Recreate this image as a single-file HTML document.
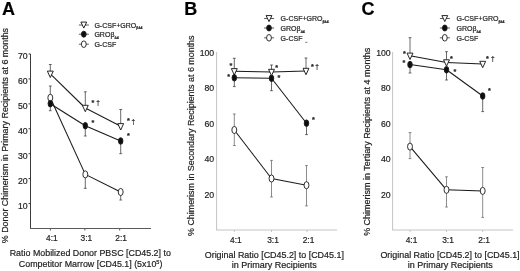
<!DOCTYPE html>
<html><head><meta charset="utf-8"><title>Figure</title>
<style>
html,body{margin:0;padding:0;background:#fff;}
body{width:520px;height:271px;overflow:hidden;}
svg{display:block;font-family:"Liberation Sans",sans-serif;}
</style></head>
<body>
<svg width="520" height="271" viewBox="0 0 520 271">
<rect width="520" height="271" fill="#fff"/>
<g filter="url(#soft)">
<text transform="translate(2.00,14.50) scale(1.0,1)" font-size="18" text-anchor="start" font-weight="bold" fill="#000" stroke="#222" stroke-width="0.2">A</text>
<line x1="30.50" y1="54.00" x2="30.50" y2="228.50" stroke="#3a3a3a" stroke-width="1.0"/>
<line x1="30.00" y1="228.50" x2="151.00" y2="228.50" stroke="#5a5a5a" stroke-width="1.0"/>
<line x1="28.50" y1="203.57" x2="30.50" y2="203.57" stroke="#3a3a3a" stroke-width="1.0"/>
<text transform="translate(27.70,208.67) scale(0.92,1)" font-size="9.5" text-anchor="end" font-weight="normal" fill="#222" stroke="#222" stroke-width="0.2">10</text>
<line x1="28.50" y1="178.64" x2="30.50" y2="178.64" stroke="#3a3a3a" stroke-width="1.0"/>
<text transform="translate(27.70,183.74) scale(0.92,1)" font-size="9.5" text-anchor="end" font-weight="normal" fill="#222" stroke="#222" stroke-width="0.2">20</text>
<line x1="28.50" y1="153.71" x2="30.50" y2="153.71" stroke="#3a3a3a" stroke-width="1.0"/>
<text transform="translate(27.70,158.81) scale(0.92,1)" font-size="9.5" text-anchor="end" font-weight="normal" fill="#222" stroke="#222" stroke-width="0.2">30</text>
<line x1="28.50" y1="128.78" x2="30.50" y2="128.78" stroke="#3a3a3a" stroke-width="1.0"/>
<text transform="translate(27.70,133.88) scale(0.92,1)" font-size="9.5" text-anchor="end" font-weight="normal" fill="#222" stroke="#222" stroke-width="0.2">40</text>
<line x1="28.50" y1="103.85" x2="30.50" y2="103.85" stroke="#3a3a3a" stroke-width="1.0"/>
<text transform="translate(27.70,108.95) scale(0.92,1)" font-size="9.5" text-anchor="end" font-weight="normal" fill="#222" stroke="#222" stroke-width="0.2">50</text>
<line x1="28.50" y1="78.92" x2="30.50" y2="78.92" stroke="#3a3a3a" stroke-width="1.0"/>
<text transform="translate(27.70,84.02) scale(0.92,1)" font-size="9.5" text-anchor="end" font-weight="normal" fill="#222" stroke="#222" stroke-width="0.2">60</text>
<line x1="28.50" y1="53.99" x2="30.50" y2="53.99" stroke="#3a3a3a" stroke-width="1.0"/>
<text transform="translate(27.70,59.09) scale(0.92,1)" font-size="9.5" text-anchor="end" font-weight="normal" fill="#222" stroke="#222" stroke-width="0.2">70</text>
<line x1="50.40" y1="228.50" x2="50.40" y2="230.50" stroke="#5a5a5a" stroke-width="1.0"/>
<text transform="translate(51.90,240.80) scale(0.955,1)" font-size="8.8" text-anchor="middle" font-weight="normal" fill="#222" stroke="#222" stroke-width="0.2">4:1</text>
<line x1="84.90" y1="228.50" x2="84.90" y2="230.50" stroke="#5a5a5a" stroke-width="1.0"/>
<text transform="translate(86.40,240.80) scale(0.955,1)" font-size="8.8" text-anchor="middle" font-weight="normal" fill="#222" stroke="#222" stroke-width="0.2">3:1</text>
<line x1="119.70" y1="228.50" x2="119.70" y2="230.50" stroke="#5a5a5a" stroke-width="1.0"/>
<text transform="translate(121.20,240.80) scale(0.955,1)" font-size="8.8" text-anchor="middle" font-weight="normal" fill="#222" stroke="#222" stroke-width="0.2">2:1</text>
<text transform="translate(7.50,135.60) rotate(-90) scale(1.0,1)" font-size="8.92" text-anchor="middle" fill="#222" stroke="#222" stroke-width="0.2">% Donor Chimerism in Primary Recipients at 6 months</text>
<text transform="translate(90.30,256.00) scale(0.955,1)" font-size="9.3" text-anchor="middle" font-weight="normal" fill="#222" stroke="#222" stroke-width="0.2">Ratio Mobilized Donor PBSC [CD45.2] to</text>
<text transform="translate(90.60,267.00) scale(0.955,1)" font-size="9.3" text-anchor="middle" font-weight="normal" fill="#222" stroke="#222" stroke-width="0.2">Competitor Marrow [CD45.1] (5x10<tspan font-size="5.8" dy="-3.2">5</tspan><tspan dy="3.2">)</tspan></text>
<line x1="50.30" y1="73.80" x2="50.30" y2="64.50" stroke="#383838" stroke-width="0.75"/>
<line x1="48.90" y1="64.50" x2="51.70" y2="64.50" stroke="#383838" stroke-width="0.75"/>
<line x1="85.30" y1="108.00" x2="85.30" y2="91.80" stroke="#383838" stroke-width="0.75"/>
<line x1="83.90" y1="91.80" x2="86.70" y2="91.80" stroke="#383838" stroke-width="0.75"/>
<line x1="120.70" y1="126.30" x2="120.70" y2="109.50" stroke="#383838" stroke-width="0.75"/>
<line x1="119.30" y1="109.50" x2="122.10" y2="109.50" stroke="#383838" stroke-width="0.75"/>
<line x1="50.30" y1="103.70" x2="50.30" y2="110.70" stroke="#383838" stroke-width="0.75"/>
<line x1="48.90" y1="110.70" x2="51.70" y2="110.70" stroke="#383838" stroke-width="0.75"/>
<line x1="85.30" y1="125.70" x2="85.30" y2="136.00" stroke="#383838" stroke-width="0.75"/>
<line x1="83.90" y1="136.00" x2="86.70" y2="136.00" stroke="#383838" stroke-width="0.75"/>
<line x1="120.70" y1="141.00" x2="120.70" y2="153.70" stroke="#383838" stroke-width="0.75"/>
<line x1="119.30" y1="153.70" x2="122.10" y2="153.70" stroke="#383838" stroke-width="0.75"/>
<line x1="50.30" y1="97.80" x2="50.30" y2="86.00" stroke="#383838" stroke-width="0.75"/>
<line x1="48.90" y1="86.00" x2="51.70" y2="86.00" stroke="#383838" stroke-width="0.75"/>
<line x1="85.30" y1="174.40" x2="85.30" y2="188.30" stroke="#383838" stroke-width="0.75"/>
<line x1="83.90" y1="188.30" x2="86.70" y2="188.30" stroke="#383838" stroke-width="0.75"/>
<line x1="120.70" y1="192.00" x2="120.70" y2="200.00" stroke="#383838" stroke-width="0.75"/>
<line x1="119.30" y1="200.00" x2="122.10" y2="200.00" stroke="#383838" stroke-width="0.75"/>
<line x1="50.30" y1="97.80" x2="85.30" y2="174.40" stroke="#1a1a1a" stroke-width="1.05"/>
<line x1="85.30" y1="174.40" x2="120.70" y2="192.00" stroke="#1a1a1a" stroke-width="1.05"/>
<line x1="50.30" y1="103.70" x2="85.30" y2="125.70" stroke="#1a1a1a" stroke-width="1.05"/>
<line x1="85.30" y1="125.70" x2="120.70" y2="141.00" stroke="#1a1a1a" stroke-width="1.05"/>
<line x1="50.30" y1="73.80" x2="85.30" y2="108.00" stroke="#1a1a1a" stroke-width="1.05"/>
<line x1="85.30" y1="108.00" x2="120.70" y2="126.30" stroke="#1a1a1a" stroke-width="1.05"/>
<ellipse cx="50.30" cy="97.80" rx="2.45" ry="3.55" fill="#fff" stroke="#1a1a1a" stroke-width="0.9"/>
<ellipse cx="85.30" cy="174.40" rx="2.45" ry="3.55" fill="#fff" stroke="#1a1a1a" stroke-width="0.9"/>
<ellipse cx="120.70" cy="192.00" rx="2.45" ry="3.55" fill="#fff" stroke="#1a1a1a" stroke-width="0.9"/>
<ellipse cx="50.30" cy="103.70" rx="2.25" ry="3.3" fill="#111" stroke="#1a1a1a" stroke-width="0.9"/>
<ellipse cx="85.30" cy="125.70" rx="2.25" ry="3.3" fill="#111" stroke="#1a1a1a" stroke-width="0.9"/>
<ellipse cx="120.70" cy="141.00" rx="2.25" ry="3.3" fill="#111" stroke="#1a1a1a" stroke-width="0.9"/>
<polygon points="47.35,71.11 53.25,71.11 50.30,77.51" fill="#fff" stroke="#1a1a1a" stroke-width="0.95" stroke-linejoin="miter"/>
<polygon points="82.35,105.31 88.25,105.31 85.30,111.71" fill="#fff" stroke="#1a1a1a" stroke-width="0.95" stroke-linejoin="miter"/>
<polygon points="117.75,123.61 123.65,123.61 120.70,130.01" fill="#fff" stroke="#1a1a1a" stroke-width="0.95" stroke-linejoin="miter"/>
<text transform="translate(93.00,104.90) scale(1.0,1)" font-size="7.2" text-anchor="middle" font-weight="bold" fill="#222" stroke="#222" stroke-width="0.2">*</text>
<text transform="translate(98.00,104.50) scale(1.0,1)" font-size="6.5" text-anchor="middle" font-weight="normal" fill="#222" stroke="#222" stroke-width="0.2">†</text>
<text transform="translate(93.00,124.90) scale(1.0,1)" font-size="7.2" text-anchor="middle" font-weight="bold" fill="#222" stroke="#222" stroke-width="0.2">*</text>
<text transform="translate(128.40,123.40) scale(1.0,1)" font-size="7.2" text-anchor="middle" font-weight="bold" fill="#222" stroke="#222" stroke-width="0.2">*</text>
<text transform="translate(133.40,124.00) scale(1.0,1)" font-size="6.5" text-anchor="middle" font-weight="normal" fill="#222" stroke="#222" stroke-width="0.2">†</text>
<text transform="translate(128.40,138.20) scale(1.0,1)" font-size="7.2" text-anchor="middle" font-weight="bold" fill="#222" stroke="#222" stroke-width="0.2">*</text>
<line x1="78.90" y1="25.00" x2="88.90" y2="25.00" stroke="#333" stroke-width="0.8"/>
<line x1="78.90" y1="34.20" x2="88.90" y2="34.20" stroke="#333" stroke-width="0.8"/>
<line x1="78.90" y1="44.20" x2="88.90" y2="44.20" stroke="#333" stroke-width="0.8"/>
<polygon points="80.90,22.08 86.70,22.08 83.80,28.08" fill="#fff" stroke="#1a1a1a" stroke-width="0.95" stroke-linejoin="miter"/>
<ellipse cx="83.80" cy="34.20" rx="2.35" ry="3.0" fill="#111" stroke="#1a1a1a" stroke-width="0.9"/>
<ellipse cx="83.80" cy="44.20" rx="2.4" ry="3.3" fill="#fff" stroke="#1a1a1a" stroke-width="0.9"/>
<text transform="translate(94.40,27.70) scale(0.95,1)" font-size="7.4" text-anchor="start" font-weight="normal" fill="#222" stroke="#222" stroke-width="0.2">G-CSF+GRO<tspan font-size="3.6" font-weight="bold" dy="1.6">β∆4</tspan></text>
<text transform="translate(94.40,36.90) scale(0.95,1)" font-size="7.4" text-anchor="start" font-weight="normal" fill="#222" stroke="#222" stroke-width="0.2">GROβ<tspan font-size="3.8" font-weight="bold" dy="1.8">∆4</tspan></text>
<text transform="translate(94.40,46.90) scale(0.95,1)" font-size="7.4" text-anchor="start" font-weight="normal" fill="#222" stroke="#222" stroke-width="0.2">G-CSF</text>
<text transform="translate(184.30,14.50) scale(1.0,1)" font-size="18" text-anchor="start" font-weight="bold" fill="#000" stroke="#222" stroke-width="0.2">B</text>
<line x1="216.60" y1="52.00" x2="216.60" y2="230.00" stroke="#bdbdbd" stroke-width="0.9"/>
<line x1="216.10" y1="230.00" x2="337.00" y2="230.00" stroke="#bdbdbd" stroke-width="0.9"/>
<line x1="216.60" y1="194.50" x2="216.60" y2="194.50" stroke="#bdbdbd" stroke-width="0.9"/>
<text transform="translate(214.20,197.90) scale(0.92,1)" font-size="9.5" text-anchor="end" font-weight="normal" fill="#222" stroke="#222" stroke-width="0.2">20</text>
<line x1="216.60" y1="159.00" x2="216.60" y2="159.00" stroke="#bdbdbd" stroke-width="0.9"/>
<text transform="translate(214.20,162.40) scale(0.92,1)" font-size="9.5" text-anchor="end" font-weight="normal" fill="#222" stroke="#222" stroke-width="0.2">40</text>
<line x1="216.60" y1="123.50" x2="216.60" y2="123.50" stroke="#bdbdbd" stroke-width="0.9"/>
<text transform="translate(214.20,126.90) scale(0.92,1)" font-size="9.5" text-anchor="end" font-weight="normal" fill="#222" stroke="#222" stroke-width="0.2">60</text>
<line x1="216.60" y1="88.00" x2="216.60" y2="88.00" stroke="#bdbdbd" stroke-width="0.9"/>
<text transform="translate(214.20,91.40) scale(0.92,1)" font-size="9.5" text-anchor="end" font-weight="normal" fill="#222" stroke="#222" stroke-width="0.2">80</text>
<line x1="216.60" y1="52.50" x2="216.60" y2="52.50" stroke="#bdbdbd" stroke-width="0.9"/>
<text transform="translate(214.20,55.90) scale(0.92,1)" font-size="9.5" text-anchor="end" font-weight="normal" fill="#222" stroke="#222" stroke-width="0.2">100</text>
<line x1="234.30" y1="230.00" x2="234.30" y2="232.00" stroke="#bdbdbd" stroke-width="0.9"/>
<text transform="translate(235.80,242.70) scale(0.955,1)" font-size="8.8" text-anchor="middle" font-weight="normal" fill="#222" stroke="#222" stroke-width="0.2">4:1</text>
<line x1="271.50" y1="230.00" x2="271.50" y2="232.00" stroke="#bdbdbd" stroke-width="0.9"/>
<text transform="translate(273.00,242.70) scale(0.955,1)" font-size="8.8" text-anchor="middle" font-weight="normal" fill="#222" stroke="#222" stroke-width="0.2">3:1</text>
<line x1="307.00" y1="230.00" x2="307.00" y2="232.00" stroke="#bdbdbd" stroke-width="0.9"/>
<text transform="translate(308.50,242.70) scale(0.955,1)" font-size="8.8" text-anchor="middle" font-weight="normal" fill="#222" stroke="#222" stroke-width="0.2">2:1</text>
<text transform="translate(194.20,135.75) rotate(-90) scale(0.902,1)" font-size="9.9" text-anchor="middle" fill="#222" stroke="#222" stroke-width="0.2">% Chimerism in Secondary Recipients at 6 months</text>
<text transform="translate(274.30,258.10) scale(0.98,1)" font-size="9.1" text-anchor="middle" font-weight="normal" fill="#222" stroke="#222" stroke-width="0.2">Original Ratio [CD45.2] to [CD45.1]</text>
<text transform="translate(274.30,268.10) scale(0.99,1)" font-size="9.1" text-anchor="middle" font-weight="normal" fill="#222" stroke="#222" stroke-width="0.2">in Primary Recipients</text>
<line x1="234.30" y1="71.30" x2="234.30" y2="58.30" stroke="#383838" stroke-width="0.75"/>
<line x1="232.90" y1="58.30" x2="235.70" y2="58.30" stroke="#383838" stroke-width="0.75"/>
<line x1="271.50" y1="72.00" x2="271.50" y2="65.00" stroke="#383838" stroke-width="0.75"/>
<line x1="270.10" y1="65.00" x2="272.90" y2="65.00" stroke="#383838" stroke-width="0.75"/>
<line x1="306.00" y1="71.00" x2="306.00" y2="58.00" stroke="#383838" stroke-width="0.75"/>
<line x1="304.60" y1="58.00" x2="307.40" y2="58.00" stroke="#383838" stroke-width="0.75"/>
<line x1="234.30" y1="77.80" x2="234.30" y2="86.60" stroke="#383838" stroke-width="0.75"/>
<line x1="232.90" y1="86.60" x2="235.70" y2="86.60" stroke="#383838" stroke-width="0.75"/>
<line x1="271.50" y1="78.30" x2="271.50" y2="90.70" stroke="#383838" stroke-width="0.75"/>
<line x1="270.10" y1="90.70" x2="272.90" y2="90.70" stroke="#383838" stroke-width="0.75"/>
<line x1="306.50" y1="123.20" x2="306.50" y2="134.60" stroke="#383838" stroke-width="0.75"/>
<line x1="305.10" y1="134.60" x2="307.90" y2="134.60" stroke="#383838" stroke-width="0.75"/>
<line x1="234.30" y1="130.00" x2="234.30" y2="114.00" stroke="#666" stroke-width="0.75"/>
<line x1="232.90" y1="114.00" x2="235.70" y2="114.00" stroke="#666" stroke-width="0.75"/>
<line x1="234.30" y1="130.00" x2="234.30" y2="145.50" stroke="#666" stroke-width="0.75"/>
<line x1="232.90" y1="145.50" x2="235.70" y2="145.50" stroke="#666" stroke-width="0.75"/>
<line x1="271.50" y1="178.50" x2="271.50" y2="160.40" stroke="#666" stroke-width="0.75"/>
<line x1="270.10" y1="160.40" x2="272.90" y2="160.40" stroke="#666" stroke-width="0.75"/>
<line x1="271.50" y1="178.50" x2="271.50" y2="197.00" stroke="#666" stroke-width="0.75"/>
<line x1="270.10" y1="197.00" x2="272.90" y2="197.00" stroke="#666" stroke-width="0.75"/>
<line x1="306.50" y1="185.20" x2="306.50" y2="165.60" stroke="#666" stroke-width="0.75"/>
<line x1="305.10" y1="165.60" x2="307.90" y2="165.60" stroke="#666" stroke-width="0.75"/>
<line x1="306.50" y1="185.20" x2="306.50" y2="205.90" stroke="#666" stroke-width="0.75"/>
<line x1="305.10" y1="205.90" x2="307.90" y2="205.90" stroke="#666" stroke-width="0.75"/>
<line x1="234.30" y1="130.00" x2="271.50" y2="178.50" stroke="#1a1a1a" stroke-width="1.05"/>
<line x1="271.50" y1="178.50" x2="306.50" y2="185.20" stroke="#1a1a1a" stroke-width="1.05"/>
<line x1="234.30" y1="77.80" x2="271.50" y2="78.30" stroke="#1a1a1a" stroke-width="1.05"/>
<line x1="271.50" y1="78.30" x2="306.50" y2="123.20" stroke="#1a1a1a" stroke-width="1.05"/>
<line x1="234.30" y1="71.30" x2="271.50" y2="72.00" stroke="#1a1a1a" stroke-width="1.05"/>
<line x1="271.50" y1="72.00" x2="306.00" y2="71.00" stroke="#1a1a1a" stroke-width="1.05"/>
<ellipse cx="234.30" cy="130.00" rx="2.45" ry="3.55" fill="#fff" stroke="#1a1a1a" stroke-width="0.9"/>
<ellipse cx="271.50" cy="178.50" rx="2.45" ry="3.55" fill="#fff" stroke="#1a1a1a" stroke-width="0.9"/>
<ellipse cx="306.50" cy="185.20" rx="2.45" ry="3.55" fill="#fff" stroke="#1a1a1a" stroke-width="0.9"/>
<ellipse cx="234.30" cy="77.80" rx="2.25" ry="3.3" fill="#111" stroke="#1a1a1a" stroke-width="0.9"/>
<ellipse cx="271.50" cy="78.30" rx="2.25" ry="3.3" fill="#111" stroke="#1a1a1a" stroke-width="0.9"/>
<ellipse cx="306.50" cy="123.20" rx="2.25" ry="3.3" fill="#111" stroke="#1a1a1a" stroke-width="0.9"/>
<polygon points="231.35,68.61 237.25,68.61 234.30,75.01" fill="#fff" stroke="#1a1a1a" stroke-width="0.95" stroke-linejoin="miter"/>
<polygon points="268.55,69.31 274.45,69.31 271.50,75.71" fill="#fff" stroke="#1a1a1a" stroke-width="0.95" stroke-linejoin="miter"/>
<polygon points="303.05,68.31 308.95,68.31 306.00,74.71" fill="#fff" stroke="#1a1a1a" stroke-width="0.95" stroke-linejoin="miter"/>
<text transform="translate(231.00,67.90) scale(1.0,1)" font-size="7.2" text-anchor="middle" font-weight="bold" fill="#222" stroke="#222" stroke-width="0.2">*</text>
<text transform="translate(228.60,78.90) scale(1.0,1)" font-size="7.2" text-anchor="middle" font-weight="bold" fill="#222" stroke="#222" stroke-width="0.2">*</text>
<text transform="translate(276.70,69.90) scale(1.0,1)" font-size="7.2" text-anchor="middle" font-weight="bold" fill="#222" stroke="#222" stroke-width="0.2">*</text>
<text transform="translate(279.00,79.90) scale(1.0,1)" font-size="7.2" text-anchor="middle" font-weight="bold" fill="#222" stroke="#222" stroke-width="0.2">*</text>
<text transform="translate(312.50,68.90) scale(1.0,1)" font-size="7.2" text-anchor="middle" font-weight="bold" fill="#222" stroke="#222" stroke-width="0.2">*</text>
<text transform="translate(317.00,69.00) scale(1.0,1)" font-size="6.5" text-anchor="middle" font-weight="normal" fill="#222" stroke="#222" stroke-width="0.2">†</text>
<text transform="translate(313.50,121.90) scale(1.0,1)" font-size="7.2" text-anchor="middle" font-weight="bold" fill="#222" stroke="#222" stroke-width="0.2">*</text>
<line x1="264.10" y1="18.50" x2="274.10" y2="18.50" stroke="#333" stroke-width="0.8"/>
<line x1="264.10" y1="28.00" x2="274.10" y2="28.00" stroke="#333" stroke-width="0.8"/>
<line x1="264.10" y1="37.80" x2="274.10" y2="37.80" stroke="#333" stroke-width="0.8"/>
<polygon points="266.10,15.58 271.90,15.58 269.00,21.58" fill="#fff" stroke="#1a1a1a" stroke-width="0.95" stroke-linejoin="miter"/>
<ellipse cx="269.00" cy="28.00" rx="2.35" ry="3.0" fill="#111" stroke="#1a1a1a" stroke-width="0.9"/>
<ellipse cx="269.00" cy="37.80" rx="2.4" ry="3.3" fill="#fff" stroke="#1a1a1a" stroke-width="0.9"/>
<text transform="translate(280.60,21.20) scale(0.95,1)" font-size="7.4" text-anchor="start" font-weight="normal" fill="#222" stroke="#222" stroke-width="0.2">G-CSF+GRO<tspan font-size="3.6" font-weight="bold" dy="1.6">β∆4</tspan></text>
<text transform="translate(280.60,30.70) scale(0.95,1)" font-size="7.4" text-anchor="start" font-weight="normal" fill="#222" stroke="#222" stroke-width="0.2">GROβ<tspan font-size="3.8" font-weight="bold" dy="1.8">∆4</tspan></text>
<text transform="translate(280.60,40.50) scale(0.95,1)" font-size="7.4" text-anchor="start" font-weight="normal" fill="#222" stroke="#222" stroke-width="0.2">G-CSF</text>
<line x1="305.00" y1="42.30" x2="307.50" y2="42.30" stroke="#555" stroke-width="0.7"/>
<text transform="translate(361.60,14.50) scale(1.0,1)" font-size="18" text-anchor="start" font-weight="bold" fill="#000" stroke="#222" stroke-width="0.2">C</text>
<line x1="392.60" y1="52.00" x2="392.60" y2="230.00" stroke="#bdbdbd" stroke-width="0.9"/>
<line x1="392.10" y1="230.00" x2="513.00" y2="230.00" stroke="#bdbdbd" stroke-width="0.9"/>
<line x1="392.60" y1="194.50" x2="392.60" y2="194.50" stroke="#bdbdbd" stroke-width="0.9"/>
<text transform="translate(390.70,197.90) scale(0.92,1)" font-size="9.5" text-anchor="end" font-weight="normal" fill="#222" stroke="#222" stroke-width="0.2">20</text>
<line x1="392.60" y1="159.00" x2="392.60" y2="159.00" stroke="#bdbdbd" stroke-width="0.9"/>
<text transform="translate(390.70,162.40) scale(0.92,1)" font-size="9.5" text-anchor="end" font-weight="normal" fill="#222" stroke="#222" stroke-width="0.2">40</text>
<line x1="392.60" y1="123.50" x2="392.60" y2="123.50" stroke="#bdbdbd" stroke-width="0.9"/>
<text transform="translate(390.70,126.90) scale(0.92,1)" font-size="9.5" text-anchor="end" font-weight="normal" fill="#222" stroke="#222" stroke-width="0.2">60</text>
<line x1="392.60" y1="88.00" x2="392.60" y2="88.00" stroke="#bdbdbd" stroke-width="0.9"/>
<text transform="translate(390.70,91.40) scale(0.92,1)" font-size="9.5" text-anchor="end" font-weight="normal" fill="#222" stroke="#222" stroke-width="0.2">80</text>
<line x1="392.60" y1="52.50" x2="392.60" y2="52.50" stroke="#bdbdbd" stroke-width="0.9"/>
<text transform="translate(390.70,55.90) scale(0.92,1)" font-size="9.5" text-anchor="end" font-weight="normal" fill="#222" stroke="#222" stroke-width="0.2">100</text>
<line x1="410.00" y1="230.00" x2="410.00" y2="232.00" stroke="#bdbdbd" stroke-width="0.9"/>
<text transform="translate(411.50,242.70) scale(0.955,1)" font-size="8.8" text-anchor="middle" font-weight="normal" fill="#222" stroke="#222" stroke-width="0.2">4:1</text>
<line x1="446.50" y1="230.00" x2="446.50" y2="232.00" stroke="#bdbdbd" stroke-width="0.9"/>
<text transform="translate(448.00,242.70) scale(0.955,1)" font-size="8.8" text-anchor="middle" font-weight="normal" fill="#222" stroke="#222" stroke-width="0.2">3:1</text>
<line x1="482.70" y1="230.00" x2="482.70" y2="232.00" stroke="#bdbdbd" stroke-width="0.9"/>
<text transform="translate(484.20,242.70) scale(0.955,1)" font-size="8.8" text-anchor="middle" font-weight="normal" fill="#222" stroke="#222" stroke-width="0.2">2:1</text>
<text transform="translate(370.10,141.75) rotate(-90) scale(0.907,1)" font-size="9.9" text-anchor="middle" fill="#222" stroke="#222" stroke-width="0.2">% Chimerism in Tertiary Recipients at 4 months</text>
<text transform="translate(450.00,258.10) scale(0.98,1)" font-size="9.1" text-anchor="middle" font-weight="normal" fill="#222" stroke="#222" stroke-width="0.2">Original Ratio [CD45.2] to [CD45.1]</text>
<text transform="translate(450.20,268.00) scale(0.99,1)" font-size="9.1" text-anchor="middle" font-weight="normal" fill="#222" stroke="#222" stroke-width="0.2">in Primary Recipients</text>
<line x1="410.00" y1="55.80" x2="410.00" y2="37.70" stroke="#383838" stroke-width="0.75"/>
<line x1="408.60" y1="37.70" x2="411.40" y2="37.70" stroke="#383838" stroke-width="0.75"/>
<line x1="446.50" y1="62.50" x2="446.50" y2="51.70" stroke="#383838" stroke-width="0.75"/>
<line x1="445.10" y1="51.70" x2="447.90" y2="51.70" stroke="#383838" stroke-width="0.75"/>
<line x1="410.00" y1="64.60" x2="410.00" y2="73.00" stroke="#383838" stroke-width="0.75"/>
<line x1="408.60" y1="73.00" x2="411.40" y2="73.00" stroke="#383838" stroke-width="0.75"/>
<line x1="446.50" y1="69.80" x2="446.50" y2="80.00" stroke="#383838" stroke-width="0.75"/>
<line x1="445.10" y1="80.00" x2="447.90" y2="80.00" stroke="#383838" stroke-width="0.75"/>
<line x1="482.70" y1="96.00" x2="482.70" y2="111.60" stroke="#383838" stroke-width="0.75"/>
<line x1="481.30" y1="111.60" x2="484.10" y2="111.60" stroke="#383838" stroke-width="0.75"/>
<line x1="410.00" y1="146.60" x2="410.00" y2="132.60" stroke="#666" stroke-width="0.75"/>
<line x1="408.60" y1="132.60" x2="411.40" y2="132.60" stroke="#666" stroke-width="0.75"/>
<line x1="410.00" y1="146.60" x2="410.00" y2="158.60" stroke="#666" stroke-width="0.75"/>
<line x1="408.60" y1="158.60" x2="411.40" y2="158.60" stroke="#666" stroke-width="0.75"/>
<line x1="446.50" y1="189.80" x2="446.50" y2="176.80" stroke="#666" stroke-width="0.75"/>
<line x1="445.10" y1="176.80" x2="447.90" y2="176.80" stroke="#666" stroke-width="0.75"/>
<line x1="446.50" y1="189.80" x2="446.50" y2="207.00" stroke="#666" stroke-width="0.75"/>
<line x1="445.10" y1="207.00" x2="447.90" y2="207.00" stroke="#666" stroke-width="0.75"/>
<line x1="482.70" y1="190.90" x2="482.70" y2="167.50" stroke="#666" stroke-width="0.75"/>
<line x1="481.30" y1="167.50" x2="484.10" y2="167.50" stroke="#666" stroke-width="0.75"/>
<line x1="482.70" y1="190.90" x2="482.70" y2="217.40" stroke="#666" stroke-width="0.75"/>
<line x1="481.30" y1="217.40" x2="484.10" y2="217.40" stroke="#666" stroke-width="0.75"/>
<line x1="410.00" y1="146.60" x2="446.50" y2="189.80" stroke="#1a1a1a" stroke-width="1.05"/>
<line x1="446.50" y1="189.80" x2="482.70" y2="190.90" stroke="#1a1a1a" stroke-width="1.05"/>
<line x1="410.00" y1="64.60" x2="446.50" y2="69.80" stroke="#1a1a1a" stroke-width="1.05"/>
<line x1="446.50" y1="69.80" x2="482.70" y2="96.00" stroke="#1a1a1a" stroke-width="1.05"/>
<line x1="410.00" y1="55.80" x2="446.50" y2="62.50" stroke="#1a1a1a" stroke-width="1.05"/>
<line x1="446.50" y1="62.50" x2="482.70" y2="64.00" stroke="#1a1a1a" stroke-width="1.05"/>
<ellipse cx="410.00" cy="146.60" rx="2.45" ry="3.55" fill="#fff" stroke="#1a1a1a" stroke-width="0.9"/>
<ellipse cx="446.50" cy="189.80" rx="2.45" ry="3.55" fill="#fff" stroke="#1a1a1a" stroke-width="0.9"/>
<ellipse cx="482.70" cy="190.90" rx="2.45" ry="3.55" fill="#fff" stroke="#1a1a1a" stroke-width="0.9"/>
<ellipse cx="410.00" cy="64.60" rx="2.25" ry="3.3" fill="#111" stroke="#1a1a1a" stroke-width="0.9"/>
<ellipse cx="446.50" cy="69.80" rx="2.25" ry="3.3" fill="#111" stroke="#1a1a1a" stroke-width="0.9"/>
<ellipse cx="482.70" cy="96.00" rx="2.25" ry="3.3" fill="#111" stroke="#1a1a1a" stroke-width="0.9"/>
<polygon points="407.05,53.11 412.95,53.11 410.00,59.51" fill="#fff" stroke="#1a1a1a" stroke-width="0.95" stroke-linejoin="miter"/>
<polygon points="443.55,59.81 449.45,59.81 446.50,66.21" fill="#fff" stroke="#1a1a1a" stroke-width="0.95" stroke-linejoin="miter"/>
<polygon points="479.75,61.31 485.65,61.31 482.70,67.71" fill="#fff" stroke="#1a1a1a" stroke-width="0.95" stroke-linejoin="miter"/>
<text transform="translate(404.40,55.60) scale(1.0,1)" font-size="7.2" text-anchor="middle" font-weight="bold" fill="#222" stroke="#222" stroke-width="0.2">*</text>
<text transform="translate(404.00,65.00) scale(1.0,1)" font-size="7.2" text-anchor="middle" font-weight="bold" fill="#222" stroke="#222" stroke-width="0.2">*</text>
<text transform="translate(451.50,61.10) scale(1.0,1)" font-size="7.2" text-anchor="middle" font-weight="bold" fill="#222" stroke="#222" stroke-width="0.2">*</text>
<text transform="translate(455.00,74.10) scale(1.0,1)" font-size="7.2" text-anchor="middle" font-weight="bold" fill="#222" stroke="#222" stroke-width="0.2">*</text>
<text transform="translate(487.50,61.20) scale(1.0,1)" font-size="7.2" text-anchor="middle" font-weight="bold" fill="#222" stroke="#222" stroke-width="0.2">*</text>
<text transform="translate(492.80,61.30) scale(1.0,1)" font-size="6.5" text-anchor="middle" font-weight="normal" fill="#222" stroke="#222" stroke-width="0.2">†</text>
<text transform="translate(489.50,92.90) scale(1.0,1)" font-size="7.2" text-anchor="middle" font-weight="bold" fill="#222" stroke="#222" stroke-width="0.2">*</text>
<line x1="439.90" y1="18.50" x2="449.90" y2="18.50" stroke="#333" stroke-width="0.8"/>
<line x1="439.90" y1="28.00" x2="449.90" y2="28.00" stroke="#333" stroke-width="0.8"/>
<line x1="439.90" y1="37.80" x2="449.90" y2="37.80" stroke="#333" stroke-width="0.8"/>
<polygon points="441.90,15.58 447.70,15.58 444.80,21.58" fill="#fff" stroke="#1a1a1a" stroke-width="0.95" stroke-linejoin="miter"/>
<ellipse cx="444.80" cy="28.00" rx="2.35" ry="3.0" fill="#111" stroke="#1a1a1a" stroke-width="0.9"/>
<ellipse cx="444.80" cy="37.80" rx="2.4" ry="3.3" fill="#fff" stroke="#1a1a1a" stroke-width="0.9"/>
<text transform="translate(456.50,21.20) scale(0.95,1)" font-size="7.4" text-anchor="start" font-weight="normal" fill="#222" stroke="#222" stroke-width="0.2">G-CSF+GRO<tspan font-size="3.6" font-weight="bold" dy="1.6">β∆4</tspan></text>
<text transform="translate(456.50,30.70) scale(0.95,1)" font-size="7.4" text-anchor="start" font-weight="normal" fill="#222" stroke="#222" stroke-width="0.2">GROβ<tspan font-size="3.8" font-weight="bold" dy="1.8">∆4</tspan></text>
<text transform="translate(456.50,40.50) scale(0.95,1)" font-size="7.4" text-anchor="start" font-weight="normal" fill="#222" stroke="#222" stroke-width="0.2">G-CSF</text>
</g>
<defs><filter id="soft" x="0" y="0" width="100%" height="100%"><feGaussianBlur stdDeviation="0.35"/></filter></defs>
</svg>
</body></html>
